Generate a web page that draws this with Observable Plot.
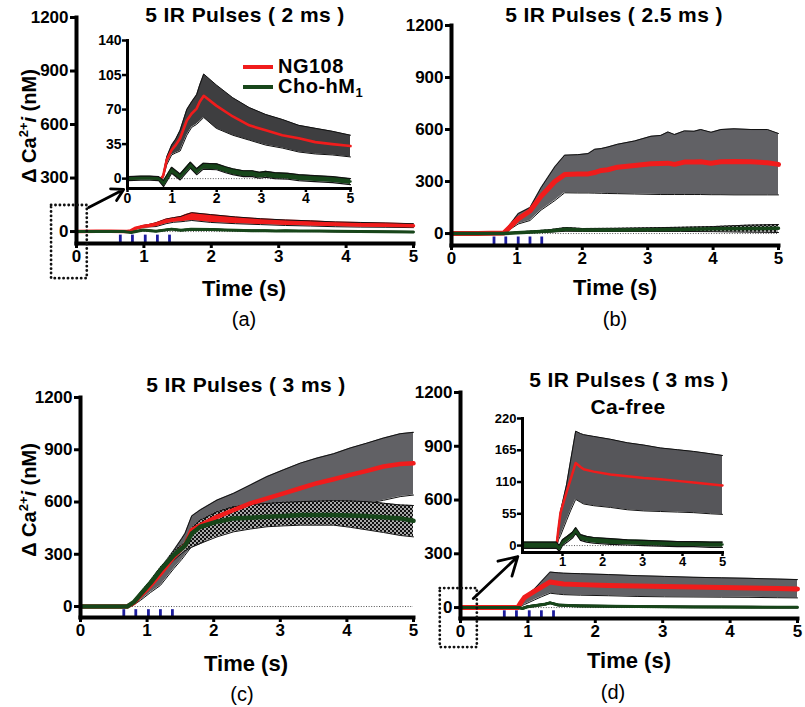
<!DOCTYPE html>
<html><head><meta charset="utf-8">
<script src="https://cdn.jsdelivr.net/npm/d3@7"></script>
<script src="https://cdn.jsdelivr.net/npm/@observablehq/plot@0.6"></script>
<style>
body{margin:0;background:#fff;}
#root{position:relative;width:805px;height:707px;overflow:hidden;font-family:"Liberation Sans",Arial,sans-serif;color:#000;}
.t{position:absolute;transform:translate(-50%,-50%);white-space:nowrap;font-weight:bold;line-height:1;}
.r{font-weight:normal;}
.lg{position:absolute;transform:translate(0,-50%);white-space:nowrap;font-weight:bold;line-height:0.9;}
.sw{position:absolute;height:4px;width:30px;}
</style></head><body>
<svg width="0" height="0" style="position:absolute"><defs>
<pattern id="chk" width="4" height="4" patternUnits="userSpaceOnUse"><rect width="4" height="4" fill="#a8a8a8"/><rect width="2" height="2" fill="#111"/><rect x="2" y="2" width="2" height="2" fill="#111"/></pattern>
</defs></svg>
<div id="root"></div>
<script>
// ---------- ticks & text ----------
const xTicks = [0, 1, 2, 3, 4, 5];
const mainYTicks = [0, 300, 600, 900, 1200];
const insetAYTicks = [0, 35, 70, 105, 140];
const insetDYTicks = [0, 55, 110, 165, 220];
const insetDXTicks = [1, 2, 3, 4, 5];
const pulseTimes = [0.65, 0.83, 1.02, 1.2, 1.38];
const zeroLine = [0];
const titles = ["5 IR Pulses ( 2 ms )", "5 IR Pulses ( 2.5 ms )", "5 IR Pulses ( 3 ms )", "5 IR Pulses ( 3 ms )", "Ca-free"];
const panelLetters = ["(a)", "(b)", "(c)", "(d)"];
const seriesNames = ["NG108", "Cho-hM"];
// zoom annotations (main-panel data coords: s, nM)
const zoomBoxA = [{x1: -0.37, x2: 0.16, y1: -264, y2: 146}];
const zoomArrowA = [{x1: 0.18, y1: 135, x2: 0.70, y2: 236}];
const zoomBoxD = [{x1: -0.30, x2: 0.25, y1: -223, y2: 106}];
const zoomArrowD = [{x1: 0.19, y1: 50, x2: 0.85, y2: 285}];

// ---------- panel (a): 2 ms ----------
const aRedT  = [0, 0.3, 0.5, 0.75, 0.8, 0.88, 0.99, 1.08, 1.18, 1.33, 1.44, 1.55, 1.62, 1.71, 1.99, 2.36, 2.73, 3.1, 3.47, 3.84, 4.21, 4.59, 5.0];
const aRedM  = [0, 1, 1, 0, 3, 19, 29, 34, 41, 59, 66, 71, 78, 84, 74, 63, 54, 49, 44, 41, 37, 35, 33];
const aRedHi = [0, 1, 1, 0, 4, 22, 34, 40, 49, 70, 78, 85, 95, 106, 95, 82, 72, 65, 60, 54, 51, 48, 44];
const aRedLo = [0, 1, 1, 0, 1, 14, 24, 26, 28, 44, 52, 55, 58, 62, 51, 44, 39, 34, 31, 27, 25, 24, 22];
const aGrnT  = [0, 0.3, 0.5, 0.7, 0.81, 0.99, 1.18, 1.41, 1.55, 1.7, 2.0, 2.2, 2.36, 2.6, 2.8, 2.96, 3.1, 3.3, 3.6, 3.84, 4.2, 4.6, 5.0];
const aGrnM  = [0, 0.5, 0.5, 0, -5, 8.5, 1.7, 13.6, 7, 12.6, 12, 9, 7, 5, 5, 3.4, 4.4, 3, 2.4, 1, 0, -1, -3];
const aGrnHi = [2, 2.5, 2.5, 2, -2, 11.5, 4.7, 16.6, 10, 15.6, 15, 12, 10, 8, 8, 6.4, 7.4, 6, 5.4, 4, 3, 2, 0];
const aGrnLo = [-2, -1.5, -1.5, -2, -8, 5.5, -1.3, 10.6, 4, 9.6, 9, 6, 4, 2, 2, 0.4, 1.4, 0, -0.6, -2, -3, -4, -6];

// ---------- panel (b): 2.5 ms ----------
const bRedT  = [0, 0.4, 0.8, 1.02, 1.2, 1.37, 1.58, 1.73, 1.93, 2.09, 2.19, 2.29, 2.39, 2.54, 2.8, 3.05, 3.2, 3.31, 3.41, 3.56, 3.71, 3.81, 3.97, 4.12, 4.32, 4.58, 4.83, 5.0];
const bRedM  = [0, 0, 3, 85, 130, 215, 300, 340, 344, 344, 352, 364, 368, 383, 393, 402, 404, 406, 399, 412, 412, 414, 406, 414, 416, 414, 408, 399];
const bRedHi = [0, 0, 5, 115, 150, 265, 385, 452, 455, 461, 486, 490, 499, 515, 534, 561, 566, 586, 571, 592, 590, 600, 584, 600, 604, 600, 600, 577];
const bRedLo = [0, 0, 1, 55, 75, 135, 190, 235, 234, 234, 233, 232, 231, 230, 228, 226, 225, 225, 225, 225, 225, 225, 224, 224, 223, 223, 223, 223];
const bGrnT  = [0, 0.8, 1.0, 1.3, 1.5, 1.75, 2.0, 2.5, 3.0, 3.5, 4.0, 4.5, 5.0];
const bGrnM  = [0, 0, 5, 10, 15, 25, 20, 20, 22, 24, 27, 29, 30];
const bGrnHi = [3, 3, 9, 16, 22, 35, 29, 30, 33, 36, 40, 48, 52];
const bGrnLo = [-3, -3, 1, 5, 8, 13, 12, 12, 12, 12, 11, 8, 6];

// ---------- panel (c): 3 ms ----------
const cT     = [0, 0.3, 0.6, 0.7, 0.8, 0.9, 1.05, 1.2, 1.4, 1.52, 1.57, 1.67, 1.8, 2.05, 2.3, 2.55, 2.8, 3.05, 3.3, 3.55, 3.8, 4.05, 4.3, 4.55, 4.8, 5.0];
const cRedM  = [0, 0, 0, 0, 20, 63, 120, 188, 285, 335, 350, 438, 467, 515, 554, 592, 621, 650, 679, 708, 731, 756, 779, 804, 818, 822];
const cRedHi = [0, 0, 0, 0, 25, 73, 145, 217, 323, 390, 420, 520, 555, 611, 650, 698, 746, 785, 823, 852, 877, 910, 938, 967, 992, 1000];
const cRedLo = [0, 0, 0, 0, 10, 35, 80, 121, 217, 270, 295, 345, 362, 419, 458, 487, 515, 525, 544, 554, 563, 578, 592, 610, 631, 640];
const cGrnM  = [0, 0, 0, 0, 25, 70, 135, 208, 294, 333, 350, 419, 458, 487, 506, 510, 515, 520, 525, 525, 525, 523, 519, 512, 506, 492];
const cGrnHi = [0, 0, 0, 0, 30, 80, 150, 225, 315, 355, 370, 450, 496, 544, 573, 585, 592, 598, 602, 605, 608, 606, 602, 593, 583, 580];
const cGrnLo = [0, 0, 0, 0, 18, 55, 115, 185, 265, 305, 320, 340, 362, 400, 429, 445, 458, 463, 467, 467, 467, 455, 440, 425, 408, 400];

// ---------- panel (d): 3 ms, Ca-free ----------
const dRedT  = [0, 0.4, 0.85, 0.9, 0.95, 1.1, 1.2, 1.33, 1.45, 1.53, 1.78, 2.2, 2.62, 3.03, 3.45, 3.87, 4.28, 4.7, 5.0];
const dRedM  = [0, 0, 0, 30, 57, 92, 114, 143, 136, 132, 128, 123, 120, 117, 115, 112, 109, 106, 104];
const dRedHi = [3, 3, 3, 32, 59, 105, 146, 198, 194, 192, 189, 184, 178, 174, 169, 166, 163, 159, 156];
const dRedLo = [-3, -3, -3, 10, 17, 43, 60, 80, 75, 72, 69, 66, 62, 60, 59, 58, 57, 55, 54];
const dGrnT  = [0, 0.4, 0.85, 0.92, 1.0, 1.12, 1.25, 1.33, 1.45, 1.6, 1.78, 2.2, 2.62, 3.03, 3.45, 3.87, 4.28, 4.7, 5.0];
const dGrnM  = [1, 1, 1, -5, 5, 11, 18, 26, 14, 11, 9, 7, 6, 4, 3, 3, 2, 2, 2];
const dGrnHi = [6, 6, 6, 0, 10, 16, 23, 31, 19, 16, 14, 12, 10, 9, 8, 7, 7, 6, 6];
const dGrnLo = [-5, -5, -5, -10, 0, 6, 13, 21, 9, 6, 4, 2, 1, 0, -1, -2, -2, -3, -3];

// ---------- helpers ----------
const RED = "#f01c1c", GREEN = "#17461a", GRAY_B = "#616165", GRAY_A = "#3e3e40", CHK = "url(#chk)";
const rows = (t, m, hi, lo) => t.map((v, i) => ({t: v, m: m[i], hi: hi[i], lo: lo[i]}));
const A_red = rows(aRedT, aRedM, aRedHi, aRedLo), A_grn = rows(aGrnT, aGrnM, aGrnHi, aGrnLo);
const B_red = rows(bRedT, bRedM, bRedHi, bRedLo), B_grn = rows(bGrnT, bGrnM, bGrnHi, bGrnLo);
const C_red = rows(cT, cRedM, cRedHi, cRedLo), C_grn = rows(cT, cGrnM, cGrnHi, cGrnLo);
const D_red = rows(dRedT, dRedM, dRedHi, dRedLo), D_grn = rows(dGrnT, dGrnM, dGrnHi, dGrnLo);

function band(d, fill, edge = 1) {
  return [
    Plot.areaY(d, {x: "t", y1: "lo", y2: "hi", fill}),
    Plot.lineY(d, {x: "t", y: "hi", stroke: "#111", strokeWidth: edge}),
    Plot.lineY(d, {x: "t", y: "lo", stroke: "#111", strokeWidth: edge})
  ];
}
function mean(d, stroke, w) {
  return Plot.lineY(d, {x: "t", y: "m", stroke, strokeWidth: w, strokeLinejoin: "round", strokeLinecap: "round"});
}
function zoomMarks(box, arrow) {
  return [
    Plot.rect(box, {x1: "x1", x2: "x2", y1: "y1", y2: "y2", fill: "none", stroke: "#111", strokeWidth: 2.8, strokeDasharray: "0.1,4.3", strokeLinecap: "round"}),
    Plot.arrow(arrow, {x1: "x1", y1: "y1", x2: "x2", y2: "y2", stroke: "#000", strokeWidth: 2.8, headLength: 12})
  ];
}

function panel(c) {
  const marks = [Plot.ruleY(zeroLine, {stroke: "#555", strokeWidth: 1, strokeDasharray: "1,1.6"}), ...c.marks];
  if (c.pulseTop !== undefined) marks.push(Plot.ruleX(pulseTimes, {y1: c.pulseTop, y2: c.ydom[0], stroke: "#1d1d9e", strokeWidth: 2.8}));
  marks.push(
    Plot.frame({anchor: "left", strokeWidth: c.axisW, strokeLinecap: "square"}),
    Plot.frame({anchor: "bottom", strokeWidth: c.axisW, strokeLinecap: "square"}),
    Plot.axisY({ticks: c.yTicks, tickSize: c.tick, tickPadding: c.ypad, strokeWidth: c.tickW, fontSize: c.font, label: null, tickFormat: d => String(d)}),
    Plot.axisX({ticks: c.xTicks, tickSize: c.tick - 1, tickPadding: c.xpad, strokeWidth: c.tickW, fontSize: c.font, label: null, tickFormat: d => String(d)})
  );
  if (c.extra) marks.push(...c.extra);
  return Plot.plot({
    width: c.w, height: c.h,
    marginLeft: c.ml, marginRight: c.mr, marginTop: c.mt, marginBottom: c.mb,
    x: {domain: [0, 5]}, y: {domain: c.ydom},
    marks,
    style: {position: "absolute", left: c.left + "px", top: c.top + "px", background: "transparent", overflow: "visible",
            fontFamily: "'Liberation Sans', Arial, sans-serif", fontWeight: "bold", color: "#000", maxWidth: "none"}
  });
}

const root = document.getElementById("root");
const mainStyle = {yTicks: mainYTicks, xTicks, axisW: 4, tickW: 3, tick: 6, ypad: 2, xpad: 1, font: 17};

// (a) main
root.append(panel({...mainStyle, left: 0, top: 0, w: 425, h: 275, ml: 76, mr: 12, mt: 17, mb: 32, ydom: [-67, 1200], pulseTop: -20,
  marks: [...band(A_red, RED), mean(A_red, RED, 3.5), ...band(A_grn, GREEN), mean(A_grn, GREEN, 3)],
  extra: zoomMarks(zoomBoxA, zoomArrowA)}));
// (b) main
root.append(panel({...mainStyle, left: 400, top: 0, w: 400, h: 275, ml: 51, mr: 22, mt: 25, mb: 30, ydom: [-69, 1200], pulseTop: -20,
  marks: [...band(B_red, GRAY_B), ...band(B_grn, CHK), mean(B_red, RED, 5), mean(B_grn, GREEN, 3.5)]}));
// (c) main
root.append(panel({...mainStyle, left: 0, top: 370, w: 425, h: 270, ml: 80, mr: 12, mt: 27, mb: 23, ydom: [-63, 1200], pulseTop: -18,
  marks: [...band(C_red, GRAY_B), ...band(C_grn, CHK), mean(C_red, RED, 4.5), mean(C_grn, GREEN, 4.5)]}));
// (d) main
root.append(panel({...mainStyle, left: 400, top: 370, w: 405, h: 270, ml: 60, mr: 8, mt: 22, mb: 22, ydom: [-61, 1200], pulseTop: -18,
  marks: [...band(D_red, GRAY_B), mean(D_red, RED, 5), ...band(D_grn, GREEN), mean(D_grn, GREEN, 3)],
  extra: zoomMarks(zoomBoxD, zoomArrowD)}));
// (a) inset
root.append(panel({yTicks: insetAYTicks, xTicks, axisW: 3, tickW: 2.5, tick: 5, ypad: 1, xpad: 1, font: 14,
  left: 90, top: 25, w: 270, h: 195, ml: 37, mr: 10, mt: 15, mb: 32, ydom: [-10, 140],
  marks: [...band(A_red, GRAY_A), mean(A_red, RED, 2.6), ...band(A_grn, GREEN, 1.2), mean(A_grn, GREEN, 2.5)]}));
// (d) inset
root.append(panel({yTicks: insetDYTicks, xTicks: insetDXTicks, axisW: 3, tickW: 2.5, tick: 5, ypad: 1, xpad: 0, font: 13,
  left: 480, top: 405, w: 260, h: 170, ml: 42, mr: 18, mt: 13, mb: 23, ydom: [-12, 220],
  marks: [...band(D_red, "#56565a"), mean(D_red, RED, 2.5), ...band(D_grn, GREEN, 1.2), mean(D_grn, GREEN, 2.5)]}));

// ---------- text ----------
function txt(html, x, y, size, cls = "t", extra = "") {
  const d = document.createElement("div");
  d.className = cls; d.innerHTML = html;
  d.style.left = x + "px"; d.style.top = y + "px"; d.style.fontSize = size + "px";
  if (extra) d.style.cssText += extra;
  root.append(d);
  return d;
}
txt(titles[0], 245, 14, 21, "t", "letter-spacing:0.4px");
txt(titles[1], 614, 14, 21, "t", "letter-spacing:0.4px");
txt(titles[2], 246, 384, 21, "t", "letter-spacing:0.4px");
txt(titles[3], 629, 379, 21, "t", "letter-spacing:0.4px");
txt(titles[4], 628, 406, 21, "t", "letter-spacing:0.4px");
[[244, 289], [615, 288], [246, 664], [629, 661]].forEach(p => txt("Time (s)", p[0], p[1], 22));
[[244, 319], [615, 319], [242, 694], [613, 692]].forEach((p, i) => txt(panelLetters[i], p[0], p[1], 20, "t r"));
const ylab = "&#916; Ca<sup style='font-size:13px'>2+</sup><i>i</i> (nM)";
txt(ylab, 28, 126, 20, "t", "transform:translate(-50%,-50%) rotate(-90deg)");
txt(ylab, 28, 500, 20, "t", "transform:translate(-50%,-50%) rotate(-90deg)");
// legend
const sw1 = document.createElement("div"); sw1.className = "sw"; sw1.style.cssText += `left:243px;top:65px;background:${RED}`; root.append(sw1);
const sw2 = document.createElement("div"); sw2.className = "sw"; sw2.style.cssText += `left:243px;top:85px;background:${GREEN}`; root.append(sw2);
txt(seriesNames[0], 278, 66, 20, "lg", "letter-spacing:0.5px");
txt(seriesNames[1] + "<sub style='font-size:13px;vertical-align:-4px;line-height:0'>1</sub>", 278, 86, 20, "lg", "letter-spacing:0.5px");
</script>
</body></html>
